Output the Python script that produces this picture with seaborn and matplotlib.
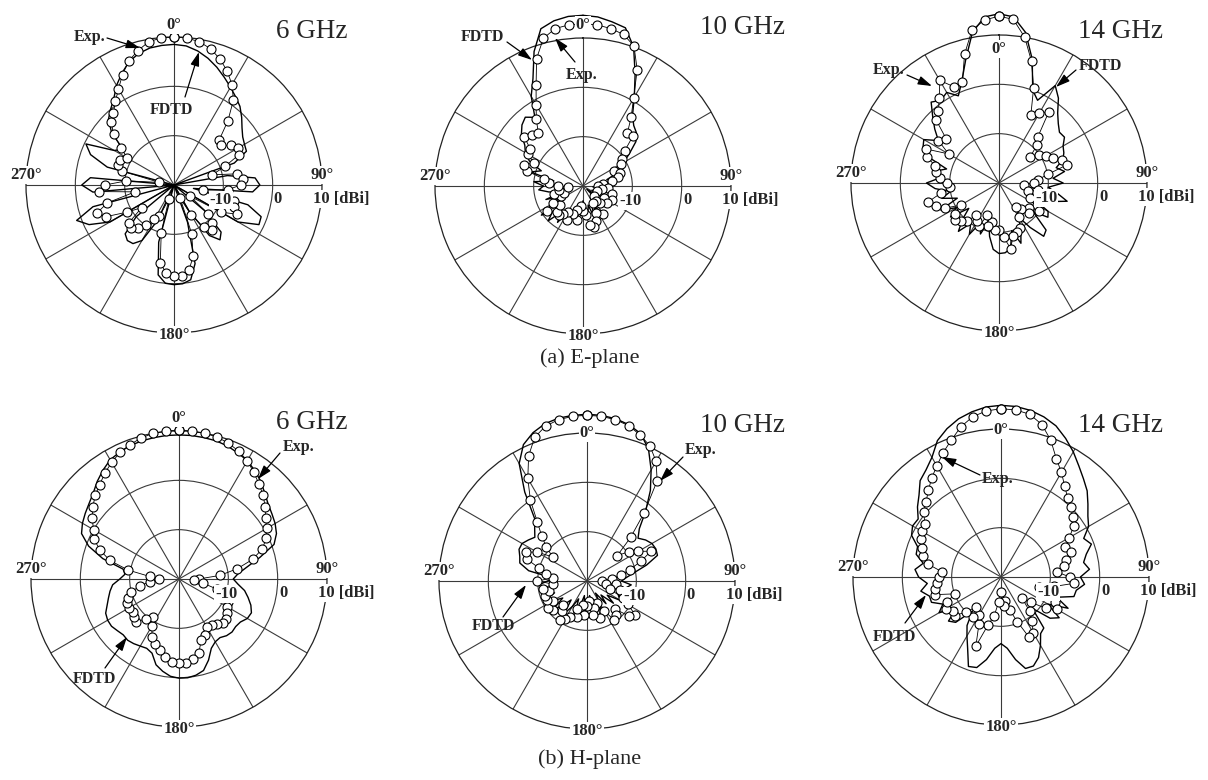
import numpy as np
import matplotlib
matplotlib.use('Agg')
import matplotlib.pyplot as plt
import seaborn as sns

sns.set_theme(style='white')
plt.rcParams['font.family'] = ['Liberation Serif', 'DejaVu Serif']

W, H = 1208, 780
R_MIN, R_MAX = -20, 10

# angles of the read values (deg, clockwise from top)
angles = np.arange(0, 360, 5)

# ---- (a) E-plane ----
e06_fdtd = [8.5, 8.3, 7.6, 6.6, 5.4, 4.1, 2.9, 1.8, 0.8, -0.6, -2.0, -3.0,
            -3.5, -3.8, -7, -20, -9, -3.5, -2.6, -4, -16, -4.5, -1.2, -1.0,
            -5, -20, -12, -6.5, -5.5, -7.5, -14, -20, -12, -3.5, -0.5, 0.1,
            0.2, 0, -1.5, -8, -20, -12, -7, -5.5, -5.3, -6, -10, -20,
            -5, -1, 1.0, -3, -20, -3.5, -1.3, -3, -20, -6, -2, -0.3,
            -6, -7.4, -3.5, -1.2, 0, 1.3, 3.3, 5.0, 6.6, 7.6, 8.2, 8.4]
e06_exp = [10, 9.9, 9.5, 8.6, 7.2, 5.5, 3.5, 1.0, -3, -7, -7.5, -6,
           -5, -5.5, -9, -12, -7, -6, -6.5, -9, -14, -7.5, -7, -6,
           -9, -16, -11, -9, -8, -9.5, -13, -17, -9.5, -5, -2.5, -1.5,
           -1.6, -2, -4, -10, -17, -13, -12, -10, -8.5, -7.8, -8, -12,
           -9, -4.8, -3.4, -6, -12, -4.7, -6, -10.3, -17, -9, -8, -7.9,
           -9, -7, -4, -2, -0.9, 0.7, 2.5, 4.7, 6.8, 8.2, 9.5, 9.9]

e10_fdtd = [14.6, 14.4, 13.8, 13.2, 10, 5, 0.8, -2.5, -4, -4.7, -6, -8.5,
            -10.5, -12, -13, -15, -14, -17, -16, -18, -15, -17, -16, -18,
            -16, -17, -19, -16, -15, -17, -14, -16, -13, -16, -14, -15,
            -17, -14, -16, -13, -15, -12, -14, -11, -13, -10, -12, -9.7,
            -13, -15, -12, -16, -13, -11, -12, -10, -14, -9, -11, -8,
            -6.5, -5.6, -3.7, -2.5, -1.8, -3, 1, 4, 9, 13, 14, 14.5]
e10_exp = [12.9, 12.8, 12.4, 11.8, 10.2, 6, 0.5, -3, -6, -5.7, -9, -10.4,
           -11, -13, -12, -12.6, -14, -16, -17, -15, -16, -14, -17, -13.5,
           -15, -14, -17, -15, -16, -13, -16, -14, -12.5, -11.5, -12, -14,
           -15, -16, -13, -15, -14, -12.5, -14, -13, -12.3, -12.5, -14, -11,
           -13, -15, -16, -14, -15, -17, -15, -13, -12, -8.3, -7.3, -9,
           -7.1, -7, -4.4, -5.5, -5.9, -3.5, -1, 2.5, 7.5, 11, 12.4, 12.8]

e14_fdtd = [14.3, 13.8, 11, 6, 0, -1.5, 2.8, 1, -1.5, -3, -4, -3.8,
            -5, -5.5, -6.2, -8, -6.5, -9, -7, -10, -8, -5.7, -9, -12,
            -8.5, -7.9, -11, -6.5, -5.9, -9, -12, -9.5, -7, -10, -6.5, -5.8,
            -5.7, -6.5, -9, -12, -9, -11, -8, -10, -7.2, -9.5, -12, -8,
            -10, -7, -11, -8, -10, -7, -5.3, -8, -6.5, -9, -5, -3,
            -2.4, -5, -3, -1, 1.4, 0.5, 1.2, -0.5, 2, 6, 11, 13.8]
e14_exp = [13.8, 13.3, 10, 5.5, 0.5, -4.7, -3.6, -2.4, -7.7, -9, -11.8, -10,
           -9, -8, -6.5, -5.7, -10, -12, -13, -15, -12, -14, -11, -13,
           -11, -10, -12, -11.5, -13, -14, -12, -10, -9.5, -8.9, -6.5, -9,
           -10.5, -10.4, -12, -11, -13, -10.3, -11, -12, -10, -9, -8.4, -9,
           -11, -8, -6.5, -5.1, -8, -10, -9.4, -8, -7, -6.6, -4.5, -3.7,
           -8.2, -5, -6, -2, -0.9, 1.1, 4, 1.5, 1.7, 7, 11.5, 13.2]

# ---- (b) H-plane ----
h06_fdtd = [9.2, 9.2, 9.1, 9.0, 8.7, 8.2, 7.7, 6.8, 5.8, 4.6, 3.6, 3.0,
            2.5, 1.8, 0.5, -3, -6, -8, -9, -8, -6.5, -5.5, -4.5, -3.8,
            -4, -4.8, -5, -4.8, -5, -5.5, -5.3, -4.5, -2.5, -0.8, -0.2, 0.1,
            0.1, -0.2, -1, -2, -4, -4.5, -4.3, -4, -3.8, -4, -3.7, -3.3,
            -3.3, -3.6, -4.5, -5.2, -5.8, -6.5, -8, -9, -8.5, -4, -0.5, 1.8,
            2.6, 3.2, 3.8, 4.6, 5.8, 6.9, 7.9, 8.4, 8.8, 9.0, 9.1, 9.2]
h06_exp = [10.2, 10.1, 10, 9.8, 9.3, 8.6, 7.7, 6.4, 5.2, 4.1, 2.8, 1.5,
           0.5, -0.5, -2, -4.5, -8, -11.7, -16, -17, -15, -12, -10, -9,
           -8.8, -8, -7.5, -7.3, -8, -8.5, -8.8, -7.5, -6.8, -4.5, -3.5, -3,
           -2.9, -3.2, -3.9, -5, -6, -7.1, -9, -10.7, -9.5, -7.6, -8, -8.5,
           -8.4, -8.4, -9, -10, -12, -14, -16, -14, -9.5, -5.5, -3, -1,
           0, 1.5, 2.8, 4, 5, 6.2, 7.3, 8.3, 9, 9.6, 10, 10.1]

h10_fdtd = [13.8, 13.7, 13.4, 12.8, 11.8, 9.5, 6, 2.4, -1.5, -5, -6.5, -5.5,
            -4.8, -4.6, -4.8, -7.5, -10.3, -12, -13, -11, -12, -14, -11.5, -13,
            -12, -15, -13, -16, -14, -17, -15, -13, -16, -14, -17, -15,
            -16, -14, -17, -15, -13, -16, -14, -12, -15, -13, -11, -14,
            -12, -10.5, -13, -11, -12, -10, -12, -13, -8, -5.9, -5.5, -4.8,
            -4.8, -5.5, -6.2, -5, -3.5, 2, 7.5, 10.5, 12, 13, 13.5, 13.7]
h10_exp = [13.6, 13.5, 13.2, 12.6, 11.5, 10.2, 8, 4.8, -2, -7.5, -12, -9.6,
           -8, -5.7, -8.4, -11, -13, -15, -17, -14, -16, -13, -15, -12,
           -10.5, -8, -9, -12, -11, -10.3, -13, -15, -12, -14.3, -13, -16,
           -15, -13, -15, -12.5, -14, -12, -11, -10.3, -12, -13, -11, -10.3,
           -12, -11, -10.9, -12, -11, -13, -9.9, -13, -11.6, -10, -7, -6.3,
           -8.2, -11.5, -9.2, -7, -4.3, 0, 4, 8, 11, 12.5, 13.2, 13.5]

h14_fdtd = [14.8, 14.7, 14.3, 13.6, 12.6, 11, 9.3, 7.5, 6, 4.7, 3, 1.5,
            0.5, -1.5, -0.5, -2.1, -3, -2, -3.9, -3, -4.5, -4.7, -8, -5,
            -9, -5.6, -7, -11, -6.5, -6, -4, -2, -0.8, -0.8, -3, -5.5,
            -6.5, -5.5, -3, -1, -0.7, -4, -6.2, -8, -11, -7, -6.1, -9,
            -5.5, -7, -5, -5, -3.5, -5, -3.3, -2.5, -4, -2.2, -2, 0,
            0.7, 0.5, 2.1, 3.5, 5.5, 6.5, 8, 10.5, 12, 13.2, 14, 14.6]
h14_exp = [14.1, 14, 13.5, 12, 9.5, 6.5, 4.5, 2.5, 1, 0, -1, -2,
           -4, -5.6, -5, -6.4, -7, -8.6, -6, -5.2, -9, -12, -10, -8,
           -6.9, -8.9, -12, -14, -11, -9, -7, -6.5, -10.4, -13, -15, -14,
           -17, -15, -12, -10, -5.1, -9.4, -11, -10, -12, -10, -7.8, -8,
           -7.2, -8, -10, -6.2, -6.5, -7, -7.5, -8, -5, -3.7, -3, -2,
           -1.5, -1.2, 0.5, 1.5, 2.9, 4.5, 6, 7.8, 9.5, 11.5, 13, 13.8]

# layout in pixels: (center x, center y, freq label, its position, y offset of the 0deg label)
panels = [
    (e06_fdtd, e06_exp, 174, 185, '6 GHz', (312, 31), -160),
    (e10_fdtd, e10_exp, 583, 186, '10 GHz', (743, 28), -161),
    (e14_fdtd, e14_exp, 999, 183, '14 GHz', (1120, 31), -134),
    (h06_fdtd, h06_exp, 179, 579, '6 GHz', (312, 423), -161),
    (h10_fdtd, h10_exp, 587, 581, '10 GHz', (743, 426), -148),
    (h14_fdtd, h14_exp, 1001, 577, '14 GHz', (1120, 426), -147),
]

# (text, text centre, arrow tail, arrow tip) per panel
notes = [
    [('Exp.', (90, 37), (107, 38), (140, 48)), ('FDTD', (171, 110), (185, 97), (199, 52))],
    [('FDTD', (482, 37), (507, 42), (532, 60)), ('Exp.', (582, 75), (575, 62), (555, 38))],
    [('Exp.', (889, 70), (907, 75), (932, 86)), ('FDTD', (1100, 66), (1076, 70), (1056, 87))],
    [('Exp.', (299, 447), (280, 453), (258, 479)), ('FDTD', (94, 679), (105, 668), (127, 637))],
    [('Exp.', (701, 450), (683, 457), (660, 481)), ('FDTD', (493, 626), (503, 617), (526, 585))],
    [('Exp.', (998, 479), (980, 475), (942, 457)), ('FDTD', (894, 637), (905, 623), (926, 595))],
]

RAD = 148  # outer ring radius, px


def fx(x, y):
    return x / W, 1 - y / H


fig = plt.figure(figsize=(W / 100, H / 100), dpi=100)

bold = dict(fontsize=12, fontweight='bold', ha='center', va='center',
            bbox=dict(fc='white', ec='none', pad=0.6), zorder=10)

for (fdtd, exp, cx, cy, freq, fpos, dy0), nt in zip(panels, notes):
    ax = fig.add_axes([(cx - RAD) / W, (H - cy - RAD) / H, 2 * RAD / W, 2 * RAD / H],
                      projection='polar')
    ax.patch.set_visible(False)
    ax.set_theta_zero_location('N')
    ax.set_theta_direction(-1)

    th = np.deg2rad(np.append(angles, 360))
    f = np.clip(np.append(fdtd, fdtd[0]), R_MIN, None)
    e = np.clip(np.append(exp, exp[0]), R_MIN, None)
    sns.lineplot(x=th, y=f, ax=ax, sort=False, estimator=None, color='black',
                 lw=1.0, clip_on=False, zorder=3)
    sns.lineplot(x=th, y=e, ax=ax, sort=False, estimator=None, color='black',
                 lw=0.6, marker='o', markersize=6.5, markerfacecolor='white',
                 markeredgecolor='black', markeredgewidth=0.8, clip_on=False, zorder=4)

    ax.set_thetalim(0, 2 * np.pi)
    ax.set_rlim(R_MIN, R_MAX)
    ax.set_rticks([-10, 0])
    ax.set_xticks(np.deg2rad(np.arange(0, 360, 30)))
    ax.set_xticklabels([])
    ax.set_yticklabels([])
    ax.set_xlabel('')
    ax.set_ylabel('')
    ax.grid(True, color='#3a3a3a', lw=0.8)
    ax.spines['polar'].set_color('#222222')
    ax.spines['polar'].set_linewidth(0.9)

    for s, dx, dy in [('0°', 0, dy0), ('90°', 148, -10), ('270°', -148, -10),
                      ('180°', 0, 150), ('-10', 47, 15), ('0', 104, 14),
                      ('10 [dBi]', 167, 14)]:
        fig.text(*fx(cx + dx, cy + dy), s, **bold)

    fig.text(*fx(*fpos), freq, fontsize=19.5, ha='center', va='center')

    for s, tpos, tail, tip in nt:
        fig.text(*fx(*tpos), s, fontsize=11.5, fontweight='bold', ha='center', va='center')
        ax.annotate('', xy=fx(*tip), xycoords='figure fraction',
                    xytext=fx(*tail), textcoords='figure fraction',
                    arrowprops=dict(arrowstyle='-|>,head_length=0.7,head_width=0.22',
                                    color='black', lw=0.9, shrinkA=0, shrinkB=0),
                    annotation_clip=False, zorder=6)

fig.text(*fx(590, 358), '(a) E-plane', fontsize=16, ha='center', va='center')
fig.text(*fx(590, 759), '(b) H-plane', fontsize=16, ha='center', va='center')

fig.savefig('out.png', dpi=100)
